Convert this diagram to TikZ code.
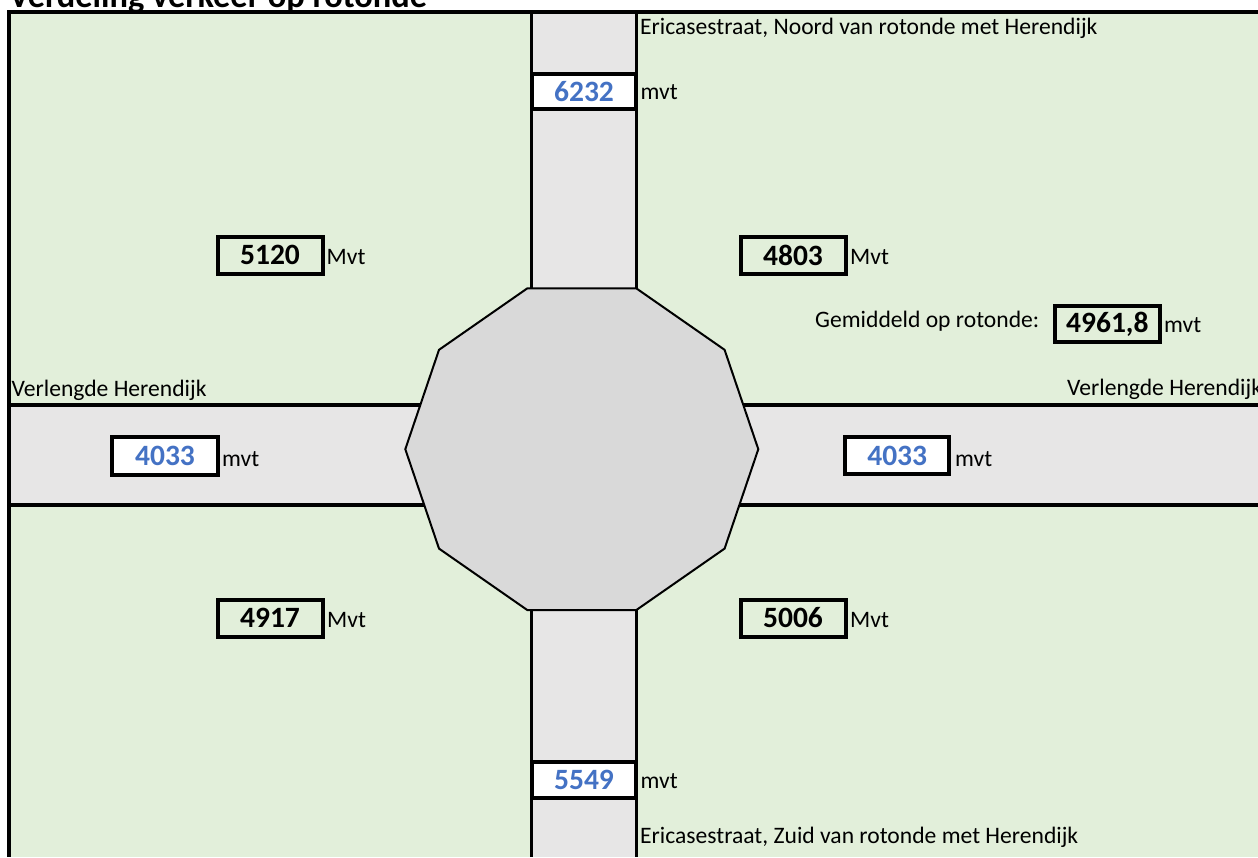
\documentclass[tikz,border=0pt]{standalone}
\usepackage{fontspec}
\setmainfont{Carlito}
\definecolor{gfield}{HTML}{E2EFDA}
\definecolor{groad}{HTML}{E7E6E6}
\definecolor{grot}{HTML}{D9D9D9}
\definecolor{nblue}{HTML}{4472C4}
\begin{document}
\begin{tikzpicture}[x=1pt,y=-1pt,
  lbl/.style={anchor=base west, font=\fontsize{23.6}{28}\selectfont, inner sep=0pt, text=black},
  numbox/.style={draw=black, line width=4pt, minimum width=105pt, minimum height=37pt, inner sep=0pt,
    font=\fontsize{29.5}{34}\selectfont\bfseries},
  bluebox/.style={numbox, fill=white, text=nblue},
  blackbox/.style={numbox, text=black},
  roadline/.style={draw=black, line width=3.2pt},
  border/.style={draw=black, line width=3.6pt}
]
\useasboundingbox (0,0) rectangle (1258,857);
\clip (0,0) rectangle (1258,857);
\fill[white] (0,0) rectangle (1258,857);
% title (cut by the top edge)
\node[anchor=base west, inner sep=0pt, font=\fontsize{34.4}{38}\selectfont\bfseries] (title) at (9,7.5) {Verdeling verkeer op rotonde};
% field
\fill[gfield] (9,12) rectangle (1258,857);
% roads
\fill[groad] (531.5,12) rectangle (636.5,320);
\fill[groad] (531.5,580) rectangle (636.5,857);
\fill[groad] (9,405) rectangle (480,505);
\fill[groad] (700,405) rectangle (1258,505);
\draw[roadline] (531.5,12) -- (531.5,300) (636.5,12) -- (636.5,300);
\draw[roadline] (531.5,600) -- (531.5,857) (636.5,600) -- (636.5,857);
\draw[roadline] (9,405) -- (480,405) (9,505) -- (480,505);
\draw[roadline] (700,405) -- (1258,405) (700,505) -- (1258,505);
% roundabout
\draw[fill=grot, line width=2pt, line join=miter, shift={(581.8,449.2)}]
  (0:176.5 and 169.1) -- (36:176.5 and 169.1) -- (72:176.5 and 169.1) -- (108:176.5 and 169.1)
  -- (144:176.5 and 169.1) -- (180:176.5 and 169.1) -- (216:176.5 and 169.1) -- (252:176.5 and 169.1)
  -- (288:176.5 and 169.1) -- (324:176.5 and 169.1) -- cycle;
% frame
\draw[border] (7.2,12) -- (1258,12);
\draw[border] (9,10.2) -- (9,857);
% street names
\node[lbl] (noord) at (640,34.5) {Ericasestraat, Noord van rotonde met Herendijk};
\node[lbl] (zuid) at (640,843.5) {Ericasestraat, Zuid van rotonde met Herendijk};
\node[lbl] (hwest) at (11.5,396.5) {Verlengde Herendijk};
\node[lbl] (heast) at (1067,395.5) {Verlengde Herendijk};
% counts on roads
\node[bluebox, minimum width=104pt, minimum height=35pt] (n6232) at (584,91.5) {6232};
\node[lbl] (m6232) at (640.5,99.5) {mvt};
\node[bluebox, minimum width=104pt, minimum height=36pt] (n5549) at (584,780) {5549};
\node[lbl] (m5549) at (640.5,788.5) {mvt};
\node[bluebox, minimum width=106pt, minimum height=38pt] (n4033w) at (165,456) {4033};
\node[lbl] (m4033w) at (222,466) {mvt};
\node[bluebox, minimum width=104.5pt, minimum height=37.5pt] (n4033e) at (897.2,455.7) {4033};
\node[lbl] (m4033e) at (955,466) {mvt};
% quadrant counts
\node[blackbox] (n5120) at (270,255) {5120};
\node[lbl] (m5120) at (326.5,264.3) {Mvt};
\node[blackbox] (n4803) at (793,255) {4803};
\node[lbl] (m4803) at (850,264.3) {Mvt};
\node[blackbox] (n4917) at (270,618) {4917};
\node[lbl] (m4917) at (327,627.3) {Mvt};
\node[blackbox] (n5006) at (793,618) {5006};
\node[lbl] (m5006) at (850,627.3) {Mvt};
% average
\node[lbl] (gem) at (815,327) {Gemiddeld op rotonde:};
\node[blackbox, minimum width=104.5pt, minimum height=36.5pt] (n4961) at (1107.3,324) {4961,8};
\node[lbl] (m4961) at (1164,332) {mvt};
\end{tikzpicture}
\end{document}
